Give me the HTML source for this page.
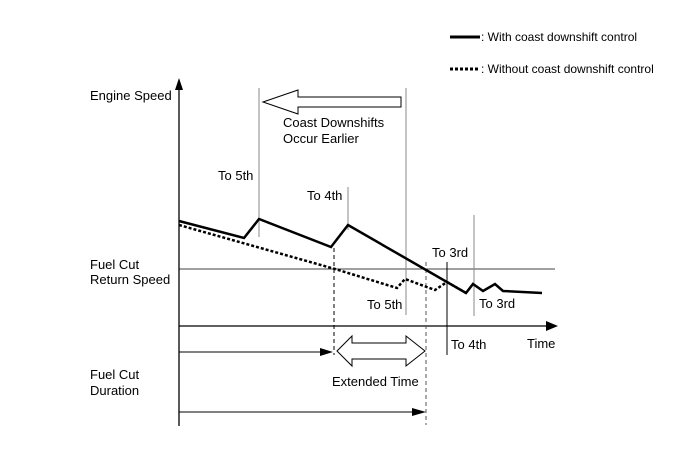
<!DOCTYPE html>
<html><head><meta charset="utf-8"><style>
body{margin:0;background:#fff}
svg text{font-family:"Liberation Sans",Arial,sans-serif;font-size:13px;fill:#000}
svg text.lg{font-size:12px}
</style></head><body>
<svg width="690" height="465" viewBox="0 0 690 465">
<g>
<line x1="450" y1="37" x2="480" y2="37" stroke="#000" stroke-width="3"/>
<text class="lg" x="481" y="41">: With coast downshift control</text>
<line x1="450" y1="69" x2="480" y2="69" stroke="#000" stroke-width="3" stroke-dasharray="3,2"/>
<text class="lg" x="481" y="73">: Without coast downshift control</text>
</g>
<text x="90" y="100">Engine Speed</text>
<text x="90" y="269">Fuel Cut</text>
<text x="90" y="284">Return Speed</text>
<text x="90" y="379">Fuel Cut</text>
<text x="90" y="395">Duration</text>
<text x="527" y="348">Time</text>
<!-- axes -->
<line x1="179" y1="88" x2="179" y2="426" stroke="#000" stroke-width="1.3"/>
<polygon points="175,90 179,78 183,90" fill="#000"/>
<line x1="179" y1="326" x2="548" y2="326" stroke="#000" stroke-width="1.3"/>
<polygon points="546,321 558,326 546,331" fill="#000"/>
<line x1="179" y1="269" x2="555" y2="269" stroke="#000" stroke-width="0.8"/>
<g stroke="#888" stroke-width="1">
<line x1="259" y1="88" x2="259" y2="237"/>
<line x1="348" y1="187" x2="348" y2="230"/>
<line x1="406" y1="88" x2="406" y2="315"/>
<line x1="474" y1="215" x2="474" y2="316"/>
</g>
<line x1="447" y1="262" x2="447" y2="355" stroke="#000" stroke-width="1"/>
<line x1="334" y1="248" x2="334" y2="355" stroke="#000" stroke-width="1" stroke-dasharray="4,3"/>
<line x1="426" y1="262" x2="426" y2="425" stroke="#555" stroke-width="1" stroke-dasharray="4,3"/>
<text x="218" y="180">To 5th</text>
<text x="307" y="200">To 4th</text>
<text x="432" y="257">To 3rd</text>
<text x="367" y="309">To 5th</text>
<text x="479" y="308">To 3rd</text>
<text x="451" y="349">To 4th</text>
<text x="283" y="127">Coast Downshifts</text>
<text x="283" y="143">Occur Earlier</text>
<text x="332" y="386">Extended Time</text>
<polygon points="263,102 298,90 298,97 401,97 401,107 298,107 298,114" fill="#fff" stroke="#000" stroke-width="1"/>
<polygon points="337,351 352,336 352,343 406,343 406,336 425,351 406,366 406,359 352,359 352,366" fill="#fff" stroke="#000" stroke-width="1"/>
<line x1="179" y1="352" x2="322" y2="352" stroke="#000" stroke-width="1"/>
<polygon points="320,348 333,352 320,356" fill="#000"/>
<line x1="179" y1="412" x2="415" y2="412" stroke="#000" stroke-width="1"/>
<polygon points="412,408 426,412 412,416" fill="#000"/>
<polyline points="179,225 335,269 397,288 405,279 435,290 447,282 466,293" fill="none" stroke="#000" stroke-width="2.5" stroke-dasharray="3,2"/>
<polyline points="179,221 244,238 259,219 331,247 348,225 466,293 473,284 483,291 495,284 503,291 542,293" fill="none" stroke="#000" stroke-width="2.5"/>
</svg>
</body></html>
